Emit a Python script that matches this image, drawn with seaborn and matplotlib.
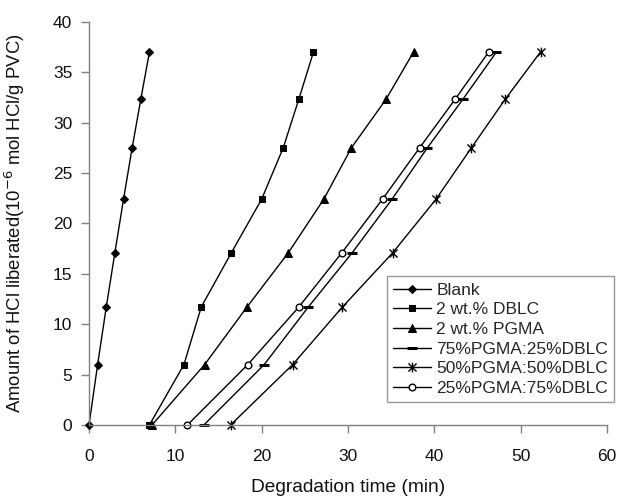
import numpy as np
import pandas as pd
import matplotlib
matplotlib.use("Agg")
import matplotlib.pyplot as plt
from matplotlib.path import Path
import seaborn as sns

hcl = [0, 6.0, 11.7, 17.1, 22.4, 27.5, 32.3, 37.0]
series_names = ["Blank", "2 wt.% DBLC", "2 wt.% PGMA", "75%PGMA:25%DBLC",
                "50%PGMA:50%DBLC", "25%PGMA:75%DBLC"]
t_blank = [0, 1, 2, 3, 4, 5, 6, 7]
t_dblc = [7.0, 11.0, 13.0, 16.5, 20.0, 22.5, 24.3, 26.0]
t_pgma = [7.3, 13.4, 18.3, 23.1, 27.2, 30.4, 34.4, 37.6]
t_75_25 = [13.3, 20.3, 25.4, 30.5, 35.1, 39.2, 43.3, 47.2]
t_50_50 = [16.4, 23.6, 29.35, 35.2, 40.2, 44.3, 48.2, 52.3]
t_25_75 = [11.4, 18.4, 24.3, 29.3, 34.0, 38.3, 42.4, 46.3]

times = [t_blank, t_dblc, t_pgma, t_75_25, t_50_50, t_25_75]

# Excel-like star marker: an "x" with a vertical bar
star = Path([(-1, -1), (1, 1), (-1, 1), (1, -1), (0, -1.2), (0, 1.2)],
            [Path.MOVETO, Path.LINETO, Path.MOVETO, Path.LINETO,
             Path.MOVETO, Path.LINETO])

sns.set_style("white")
plt.rcParams['font.family'] = ['Liberation Sans', 'DejaVu Sans']

fig = plt.figure(figsize=(6.2, 5.0), dpi=100)
ax = fig.add_axes([89/620, 75/500, (607-89)/620, (425-21.7)/500])

styles = [
    dict(marker="D", markersize=4.5, mfc="k", mec="k"),
    dict(marker="s", markersize=5, mfc="k", mec="k"),
    dict(marker="^", markersize=5.5, mfc="k", mec="k"),
    dict(marker="_", markersize=7, mfc="k", mec="k", mew=2.2),
    dict(marker=star, markersize=7, mfc="k", mec="k", mew=1.0),
    dict(marker="o", markersize=4.8, mfc="white", mec="k", mew=1.0),
]

for name, t, st in zip(series_names, times, styles):
    df = pd.DataFrame({"t": t, "y": hcl})
    sns.lineplot(data=df, x="t", y="y", ax=ax, color="k", lw=1.0,
                 label=name, sort=False, **st)

ax.set_xlim(0, 60)
ax.set_ylim(0, 40)
ax.set_xticks(range(0, 61, 10))
ax.set_yticks(range(0, 41, 5))
ax.tick_params(axis="both", direction="out", length=6, width=1, color="#808080",
               labelsize=12.5, pad=6, bottom=True, left=True)
ax.tick_params(axis="x", pad=11.5)
for s in ["top", "right"]:
    ax.spines[s].set_visible(False)
for s in ["left", "bottom"]:
    ax.spines[s].set_color("#808080")
    ax.spines[s].set_linewidth(1)
for lab in ax.get_xticklabels() + ax.get_yticklabels():
    lab.set_color("#111111")

ax.set_xlabel("Degradation time (min)", fontsize=13.8, color="#111111")
ax.set_ylabel("Amount of HCl liberated(10$^{-6}$ mol HCl/g PVC)", fontsize=13.3,
              color="#111111")
ax.xaxis.set_label_coords(0.5, -(479 - 425) / 403)
ax.yaxis.set_label_coords((27 - 89) / 518, 0.5)

leg = ax.legend(loc="lower right", bbox_to_anchor=(614/620, 98/500),
                bbox_transform=fig.transFigure, fontsize=12.5, frameon=True,
                fancybox=False, edgecolor="#808080", handlelength=2.2,
                handletextpad=0.3, labelspacing=0.26, borderpad=0.35,
                borderaxespad=0)
leg.get_frame().set_linewidth(1)
for ln in ax.lines:
    ln.set_clip_on(False)

fig.savefig("out.png", dpi=100)
